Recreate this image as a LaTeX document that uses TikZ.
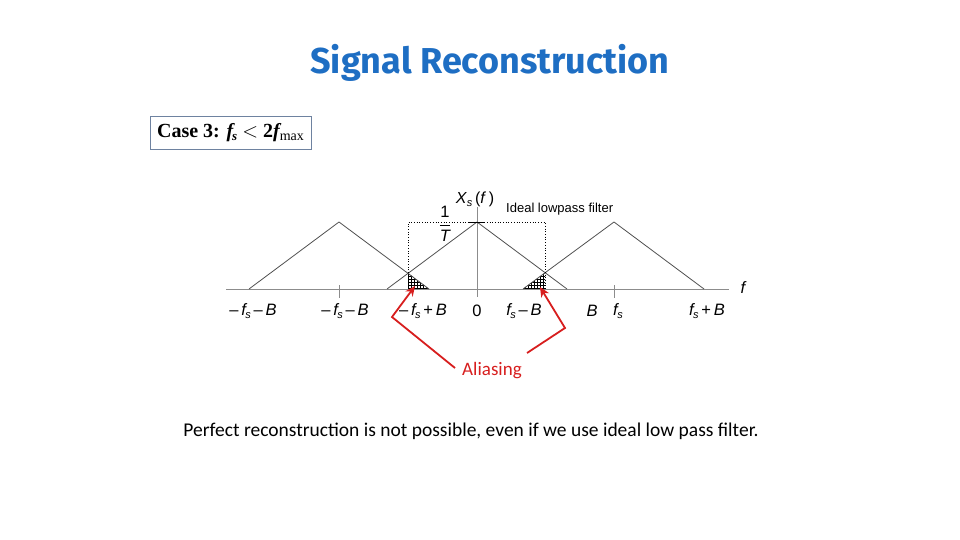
\documentclass[tikz,border=0pt]{standalone}
\usepackage{fontspec}
\setmainfont{Liberation Serif}
\newfontfamily\titlefont{Fira Sans}
\newfontfamily\lblfont{Liberation Sans}
\newfontfamily\bodyfont{Carlito}
\usetikzlibrary{patterns,arrows.meta}
\definecolor{titleblue}{RGB}{30,110,195}
\definecolor{alred}{RGB}{215,30,30}
\definecolor{axisgray}{RGB}{140,140,140}
\definecolor{trigray}{RGB}{80,80,80}
\definecolor{boxedge}{RGB}{110,130,160}
\begin{document}
\begin{tikzpicture}[x=1pt,y=-1pt,
  axisline/.style={draw=axisgray,line width=1pt},
  triline/.style={draw=trigray,line width=0.8pt},
  filterline/.style={draw=black,line width=0.7pt,dotted},
  freqlbl/.style={font=\lblfont\fontsize{16.5}{18}\selectfont\itshape,inner sep=0pt,anchor=center},
  smalllbl/.style={font=\lblfont\fontsize{13}{15}\selectfont,inner sep=0pt},
  redarrow/.style={draw=alred,line width=1.8pt,-{Stealth[length=10pt,width=9pt]},line join=miter},
  hatch/.style={pattern=grid,pattern color=black}
]
\useasboundingbox (0,0) rectangle (960,540);

% title
\node[font=\titlefont\bfseries\fontsize{36}{42}\selectfont,text=titleblue,inner sep=0pt] (title) at (490,63) {Signal Reconstruction};

% case box
\node[draw=boxedge,line width=0.8pt,minimum width=161pt,minimum height=33pt,inner sep=0pt,
      font=\fontsize{20}{22}\selectfont\bfseries] (case) at (230.5,132.5)
  {Case 3: {\itshape f\kern-1pt\raisebox{-3pt}{\fontsize{13}{13}\selectfont s}}\ \mdseries$<$\ \bfseries 2{\itshape f}\raisebox{-3pt}{\mdseries\fontsize{14}{14}\selectfont max}};

% hatched aliasing regions
\fill[hatch] (408,273) -- (429,289) -- (408,289) -- cycle;
\fill[hatch] (545,273) -- (545,289) -- (523,289) -- cycle;

% axes
\coordinate (axL) at (226,289);
\coordinate (axR) at (729,289);
\draw[axisline] (axL) -- (axR);
\coordinate (vT) at (477,207);
\coordinate (vB) at (477,297);
\draw[axisline] (vT) -- (vB);
\draw[axisline] (339,285) -- (339,298);
\draw[axisline] (614,285) -- (614,298);

% triangles
\draw[triline] (249,289) -- (339,222) -- (429,289);
\draw[triline] (387,289) -- (477,222) -- (567,289);
\draw[triline] (523,289) -- (614,222) -- (704,289);

% ideal lowpass filter (dotted)
\draw[filterline] (408,289) -- (408,222) -- (545,222) -- (545,289);
\draw[black,line width=1pt] (469,222) -- (485,222);

% labels
\node[smalllbl,font=\lblfont\fontsize{16}{18}\selectfont] (xsf) at (475,199) {\textit{X}\raisebox{-3pt}{\fontsize{11}{11}\selectfont\itshape s}\,(\textit{f}\,)};
\node[smalllbl,anchor=west] (ilpf) at (506,209) {Ideal lowpass filter};
\node[freqlbl] (oneT) at (445,224) {$\displaystyle\frac{\hbox{\lblfont\upshape 1}}{\hbox{\lblfont\itshape T}}$};
\node[freqlbl] (fax) at (743,288) {f};

\node[freqlbl] (l1) at (253,311) {\upshape\textendash\,\itshape f\kern-0.5pt\raisebox{-3pt}{\fontsize{11}{11}\selectfont s}\,\upshape\textendash\,\itshape B};
\node[freqlbl] (l2) at (345,311) {\upshape\textendash\,\itshape f\kern-0.5pt\raisebox{-3pt}{\fontsize{11}{11}\selectfont s}\,\upshape\textendash\,\itshape B};
\node[freqlbl] (l3) at (423,311) {\upshape\textendash\,\itshape f\kern-0.5pt\raisebox{-3pt}{\fontsize{11}{11}\selectfont s}\,\upshape+\,\itshape B};
\node[freqlbl] (l4) at (477,311) {\upshape 0};
\node[freqlbl] (l5) at (524,311) {f\kern-0.5pt\raisebox{-3pt}{\fontsize{11}{11}\selectfont s}\,\upshape\textendash\,\itshape B};
\node[freqlbl] (l6) at (592,311) {B};
\node[freqlbl] (l7) at (618,311) {f\kern-0.5pt\raisebox{-3pt}{\fontsize{11}{11}\selectfont s}};
\node[freqlbl] (l8) at (707,311) {f\kern-0.5pt\raisebox{-3pt}{\fontsize{11}{11}\selectfont s}\,\upshape+\,\itshape B};

% aliasing
\node[font=\bodyfont\fontsize{19}{22}\selectfont,text=alred,inner sep=0pt] (alias) at (492,371) {Aliasing};
\coordinate (a1s) at (455,368);
\coordinate (a1m) at (392,317);
\coordinate (a1t) at (415,286);
\coordinate (a2s) at (527,353);
\coordinate (a2m) at (565,328);
\coordinate (a2t) at (540,287);
\draw[redarrow] (a1s) -- (a1m) -- (a1t);
\draw[redarrow] (a2s) -- (a2m) -- (a2t);

% bottom sentence
\node[font=\bodyfont\fontsize{19.5}{23}\selectfont,inner sep=0pt] (note) at (471,431)
  {Perfect reconstruction is not possible, even if we use ideal low pass filter.};
\end{tikzpicture}
\end{document}
